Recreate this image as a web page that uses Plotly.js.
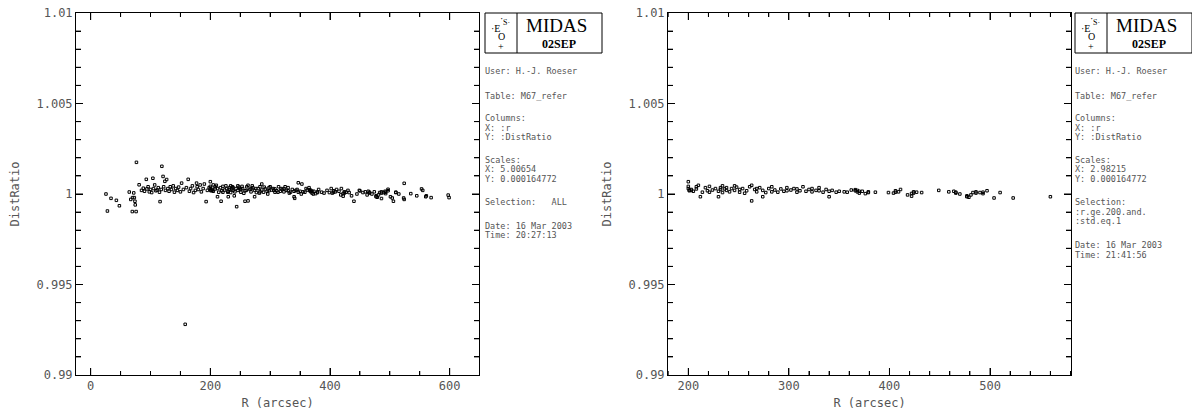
<!DOCTYPE html>
<html><head><meta charset="utf-8">
<script src="https://cdn.plot.ly/plotly-3.0.1.min.js"></script>
<style>html,body{margin:0;padding:0;background:#fff}#chart{width:1192px;height:410px}</style>
</head><body><div id="chart"></div>
<script>
// ---- data: left panel, r < 200 (all stars) ----
const rLow = [25.6,28,34,43,48,64.5,67,69.6,70,72,73,74,74.5,76,76.5,81,85,88,90,93,94,96,98,100,102,104,105,107,109,111,113,115,116,118,119,121,122,124,125,127,129,131,133,135,138,140,142,145,147,150,152,155,158,160,163,165,167,170,172,175,177,178,180,183,185,188,190,193,195,198];
const ratioLow = [1.00000,0.99906,0.99976,0.99965,0.99935,1.00011,0.99970,0.99903,0.99980,1.00006,0.99980,0.99960,0.99940,0.99903,1.00175,1.00051,1.00020,1.00032,1.00015,1.00081,1.00028,1.00040,1.00012,1.00025,1.00008,1.00087,1.00030,1.00050,1.00018,1.00022,1.00035,1.00010,0.99958,1.00025,1.00153,1.00097,1.00040,1.00070,1.00020,1.00080,1.00030,1.00015,1.00040,1.00025,1.00045,1.00010,1.00030,1.00020,1.00038,1.00012,1.00060,1.00025,0.99280,1.00035,1.00081,1.00015,1.00030,1.00045,1.00008,1.00020,1.00060,1.00040,1.00025,1.00050,1.00012,1.00030,1.00055,0.99958,1.00020,1.00035];
// ---- data: selected stars (r >= 200, std = 1) — right panel ----
const rSel = [200,200,200,201,201,203,203,205,208,208,210,212,214,217,219,221,221,224,227,230,230,232,232,234,234,236,238,238,241,243,246,246,248,251,251,254,256,258,261,263,263,266,268,268,271,274,274,277,280,283,283,286,289,292,295,298,298,302,305,308,308,311,314,317,320,323,323,327,330,330,334,337,340,340,343,347,350,355,358,362,366,366,368,368,370,370,373,376,379,379,386,399,404,406,406,409,411,418,422,422,424,424,427,432,449,459,464,466,466,470,477,477,479,481,483,486,486,490,493,493,497,504,510,523,560];
const ratioSel = [1.00068,1.00042,1.00030,1.00022,1.00018,1.00025,1.00020,1.00015,1.00040,1.00028,1.00048,0.99985,1.00010,1.00035,1.00018,1.00042,1.00010,1.00022,1.00030,0.99985,1.00015,1.00035,1.00025,1.00045,1.00008,1.00028,1.00020,1.00035,1.00012,1.00030,1.00045,1.00020,1.00038,1.00025,1.00010,1.00030,1.00004,1.00018,1.00040,0.99962,1.00048,1.00025,1.00030,1.00012,1.00035,0.99985,1.00020,1.00008,1.00030,1.00012,1.00040,1.00022,1.00010,1.00028,1.00015,1.00035,1.00018,1.00022,1.00030,1.00010,1.00028,1.00018,1.00040,1.00015,1.00025,1.00030,1.00012,1.00020,1.00035,1.00018,1.00010,1.00025,0.99985,1.00015,1.00020,1.00010,1.00015,1.00012,1.00010,1.00022,1.00018,1.00024,1.00012,1.00020,1.00005,1.00015,1.00015,1.00002,1.00012,1.00008,1.00010,1.00008,1.00005,1.00018,1.00010,1.00012,1.00025,0.99995,0.99988,1.00003,1.00012,1.00005,1.00010,1.00008,1.00020,1.00012,1.00015,1.00010,1.00005,1.00000,0.99985,0.99990,0.99982,0.99995,1.00008,1.00012,1.00005,1.00008,1.00002,1.00010,1.00018,0.99978,1.00008,0.99978,0.99985];
// ---- data: other stars with r >= 200 (not selected) — left panel only ----
const rOther = [205,212,218,226,229,237,240,244,249,253,258,260,270,276,282,286,290,296,300,306,313,318,325,332,341,345,347,352,353,360,365,372,381,390,395,402,415,419,430,436,440,445,450,455,462,474,486,492,497,501,506,510,515,524,524,535,545,553,555,561,569,597.5,599];
const ratioOther = [1.00050,1.00030,0.99960,1.00045,1.00010,1.00040,0.99990,0.99930,1.00030,1.00042,0.99960,1.00020,1.00045,1.00030,1.00005,1.00055,1.00038,1.00000,1.00040,1.00020,1.00010,1.00030,1.00040,1.00005,0.99976,1.00025,1.00062,1.00000,1.00055,1.00030,1.00035,1.00000,1.00025,1.00005,1.00020,1.00030,1.00015,1.00030,1.00020,0.99990,0.99960,1.00000,1.00017,1.00008,0.99995,1.00012,0.99975,1.00015,1.00026,0.99985,0.99960,1.00010,1.00000,1.00059,0.99970,1.00002,0.99990,1.00028,1.00020,0.99990,0.99980,0.99994,0.99980];

const xAxisTitle = 'R (arcsec)';
const yAxisTitle = 'DistRatio';

const infoLeft = ['User: H.-J. Roeser','Table: M67_refer','Columns:','X: :r','Y: :DistRatio','Scales:','X: 5.00654','Y: 0.000164772','Selection:   ALL','Date: 16 Mar 2003','Time: 20:27:13'];
const infoLeftY = [71,96,118,127.5,137,160,169.5,179,202,226,235.5];
const infoRight = ['User: H.-J. Roeser','Table: M67_refer','Columns:','X: :r','Y: :DistRatio','Scales:','X: 2.98215','Y: 0.000164772','Selection:',':r.ge.200.and.',':std.eq.1','Date: 16 Mar 2003','Time: 21:41:56'];
const infoRightY = [71,96,118,127.5,137,160,169.5,179,202,211.5,221,245,254.5];

// ---- drawing ----
const W = 1192, H = 410;
const px = x => x / W;
const py = y => 1 - y / H;
const mono = 'DejaVu Sans Mono, monospace';
const txtCol = '#555';

const allR = rLow.concat(rSel, rOther);
const allV = ratioLow.concat(ratioSel, ratioOther);
const mk = () => ({symbol:'square-open', size:2.5, color:'#000', line:{width:1, color:'#000'}});

const traces = [
  {type:'scatter', mode:'markers', x:allR, y:allV, xaxis:'x', yaxis:'y', marker:mk()},
  {type:'scatter', mode:'markers', x:rSel, y:ratioSel, xaxis:'x2', yaxis:'y2', marker:mk()}
];

function yax(anchor, dom) {
  return {
    domain: dom, anchor: anchor, range:[0.99,1.01], dtick:0.005,
    ticks:'inside', ticklen:7, tickcolor:'#000',
    showline:true, mirror:'ticks', linecolor:'#000', showgrid:false, zeroline:false,
    minor:{dtick:0.001, ticks:'inside', ticklen:5, tickcolor:'#000'},
    tickfont:{family:mono, size:12, color:txtCol},
    title:{text:yAxisTitle, font:{family:mono, size:12, color:txtCol}, standoff:14}
  };
}
function xax(anchor, dom, range, dtick, mdtick) {
  return {
    domain: dom, anchor: anchor, range: range, dtick:dtick,
    ticks:'inside', ticklen:7, tickcolor:'#000',
    showline:true, mirror:'ticks', linecolor:'#000', showgrid:false, zeroline:false,
    minor:{dtick:mdtick, ticks:'inside', ticklen:4, tickcolor:'#000'},
    tickfont:{family:mono, size:12, color:txtCol},
    title:{text:xAxisTitle, font:{family:mono, size:12, color:txtCol}, standoff:6}
  };
}

const yDom = [py(375), py(13)];
const range1 = [-24.5, 649], range2 = [179.8, 580.5];
const layout = {
  width:W, height:H, margin:{l:0,r:0,t:0,b:0},
  paper_bgcolor:'#fff', plot_bgcolor:'#fff', showlegend:false,
  xaxis: xax('y', [px(76), px(479)], range1, 200, 50),
  yaxis: yax('x', yDom),
  xaxis2: xax('y2', [px(668), px(1071)], range2, 100, 20),
  yaxis2: yax('x2', yDom),
  shapes: [], annotations: []
};

// backup tick marks through the axes' own scales (same places as the axis ticks)
const tk = {color:'#000', width:1};
function ticksFor(ax, ya, xr, xMaj, xMin) {
  for (let v = Math.ceil(xr[0] / xMin) * xMin; v <= xr[1]; v += xMin) {
    const len = Math.abs(v / xMaj - Math.round(v / xMaj)) < 1e-6 ? 7 : 4;
    layout.shapes.push({type:'line', xref:ax, yref:ya + ' domain', x0:v, x1:v, ysizemode:'pixel', yanchor:0, y0:0, y1:len, line:tk});
    layout.shapes.push({type:'line', xref:ax, yref:ya + ' domain', x0:v, x1:v, ysizemode:'pixel', yanchor:1, y0:0, y1:-len, line:tk});
  }
  for (let i = 1; i < 20; i++) {
    const v = 0.99 + i * 0.001, len = i % 5 === 0 ? 7 : 5;
    layout.shapes.push({type:'line', yref:ya, xref:ax + ' domain', y0:v, y1:v, xsizemode:'pixel', xanchor:0, x0:0, x1:len, line:tk});
    layout.shapes.push({type:'line', yref:ya, xref:ax + ' domain', y0:v, y1:v, xsizemode:'pixel', xanchor:1, x0:0, x1:-len, line:tk});
  }
}
ticksFor('x', 'y', range1, 200, 50);
ticksFor('x2', 'y2', range2, 100, 20);

function logo(x0) {
  const x1 = x0 + 117, div = x0 + 32;
  layout.shapes.push({type:'rect', xref:'paper', yref:'paper', x0:px(x0), x1:px(x1), y0:py(53), y1:py(13), line:{color:'#000', width:1}});
  layout.shapes.push({type:'line', xref:'paper', yref:'paper', x0:px(div), x1:px(div), y0:py(53), y1:py(13), line:{color:'#000', width:1}});
  const cx = (x0 + div) / 2;
  const serif = 'Liberation Serif, DejaVu Serif, serif';
  const add = (t, x, y, s, xa) => layout.annotations.push({text:t, xref:'paper', yref:'paper', x:px(x), y:py(y), xanchor:xa || 'center', yanchor:'middle', showarrow:false, borderpad:0, font:{family:serif, size:s, color:'#000'}});
  add('·', cx, 18, 10);
  add('·E', cx, 28, 10, 'right');
  add('S·', cx + 1, 22, 8, 'left');
  add('O', cx, 37, 10);
  add('+', cx, 47, 10);
  add('MIDAS', x0 + 71, 25, 19);
  add('<b>02SEP</b>', x0 + 74, 44, 12);
}
function info(x0, lines, ys) {
  lines.forEach((t, i) => layout.annotations.push({text:t, xref:'paper', yref:'paper', x:px(x0), y:py(ys[i]), xanchor:'left', yanchor:'middle', showarrow:false, borderpad:0, font:{family:mono, size:8.5, color:txtCol}}));
}
logo(485); logo(1075);
info(484, infoLeft, infoLeftY);
info(1074, infoRight, infoRightY);

Plotly.newPlot('chart', traces, layout, {staticPlot:true, displayModeBar:false});
</script>
</body></html>
